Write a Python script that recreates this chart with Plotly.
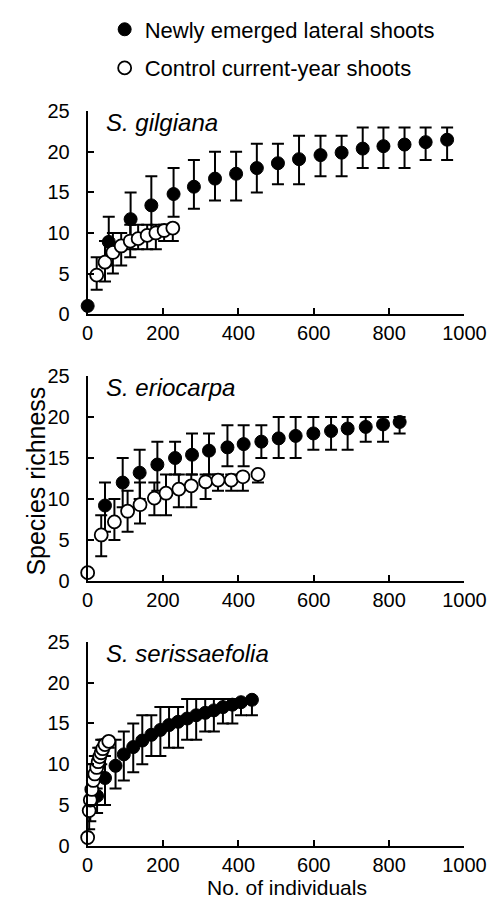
import plotly.graph_objects as go

# ---------------- data ----------------
panel_titles = ["S. gilgiana", "S. eriocarpa", "S. serissaefolia"]
legend_names = ["Newly emerged lateral shoots", "Control current-year shoots"]
x_ticks = [0, 200, 400, 600, 800, 1000]
y_ticks = [0, 5, 10, 15, 20, 25]

# S. gilgiana
new_x1 = [0, 56, 114, 169, 228, 282, 338, 394, 449, 505, 561, 618, 674, 730, 785, 841, 897, 954]
new_y1 = [1.0, 8.9, 11.7, 13.4, 14.8, 15.7, 16.7, 17.3, 18.0, 18.6, 19.1, 19.6, 19.9, 20.4, 20.7, 20.9, 21.2, 21.5]
new_hi1 = [1.0, 12, 15, 17, 18, 19, 20, 20, 21, 21, 22, 22, 22, 23, 23, 23, 23, 23]
new_lo1 = [1.0, 6, 8, 10, 12, 13, 14, 14, 15, 16, 16, 17, 17, 18, 18, 18, 19, 19]
ctl_x1 = [24, 46, 67, 89, 113, 134, 158, 181, 203, 226]
ctl_y1 = [4.8, 6.4, 7.6, 8.4, 9.0, 9.3, 9.7, 10.0, 10.3, 10.6]
ctl_hi1 = [7, 9, 10, 10, 11, 11, 11, 11, 11, 11]
ctl_lo1 = [3, 4, 5, 6, 7, 8, 8, 8, 9, 9]

# S. eriocarpa
new_x2 = [46, 93, 138, 185, 232, 277, 322, 371, 414, 461, 507, 552, 599, 646, 690, 738, 784, 828]
new_y2 = [9.2, 12.0, 13.2, 14.2, 15.0, 15.4, 15.9, 16.3, 16.7, 17.0, 17.4, 17.7, 18.0, 18.3, 18.6, 18.8, 19.1, 19.4]
new_hi2 = [12, 15, 16, 17, 17, 18, 18, 19, 19, 19, 20, 20, 20, 20, 20, 20, 20, 20]
new_lo2 = [6, 9, 10, 11, 13, 13, 13, 14, 14, 15, 15, 15, 16, 16, 16, 17, 17, 18]
ctl_x2 = [0, 36, 71, 106, 139, 177, 208, 242, 275, 313, 346, 381, 412, 452]
ctl_y2 = [1.0, 5.6, 7.2, 8.5, 9.3, 10.1, 10.7, 11.2, 11.6, 12.1, 12.3, 12.3, 12.7, 13.0]
ctl_hi2 = [1.0, 8, 10, 11, 12, 12, 13, 13, 13, 13, 13, 13, 13, 13]
ctl_lo2 = [1.0, 3, 5, 6, 7, 8, 8, 9, 9, 10, 11, 11, 11, 12]

# S. serissaefolia
new_x3 = [25, 46, 74, 96, 121, 145, 169, 193, 216, 240, 264, 288, 312, 335, 359, 384, 407, 436]
new_y3 = [6.1, 8.3, 9.8, 11.2, 12.1, 12.9, 13.6, 14.2, 14.8, 15.2, 15.6, 16.0, 16.3, 16.6, 17.0, 17.3, 17.6, 17.9]
new_hi3 = [8, 12, 13, 14, 15, 16, 16, 17, 17, 17, 18, 18, 18, 18, 18, 18, 18, 18]
new_lo3 = [4, 5, 7, 8, 9, 10, 11, 11, 12, 12, 13, 13, 14, 14, 15, 15, 16, 16]
ctl_x3 = [0, 4, 7, 11, 15, 19, 24, 28, 32, 36, 40, 46, 56]
ctl_y3 = [1.0, 4.3, 5.6, 6.9, 8.0, 8.8, 9.6, 10.3, 10.9, 11.4, 11.9, 12.4, 12.8]
ctl_hi3 = [1.0, 6, 8, 9, 10, 11, 11, 12, 12, 13, 13, 13, 13]
ctl_lo3 = [1.0, 2, 3, 4, 5, 6, 7, 8, 9, 10, 11, 11, 12]

panels = [
    (new_x1, new_y1, new_hi1, new_lo1, ctl_x1, ctl_y1, ctl_hi1, ctl_lo1),
    (new_x2, new_y2, new_hi2, new_lo2, ctl_x2, ctl_y2, ctl_hi2, ctl_lo2),
    (new_x3, new_y3, new_hi3, new_lo3, ctl_x3, ctl_y3, ctl_hi3, ctl_lo3),
]

# ---------------- layout helpers ----------------
W, H = 503, 902
FONT = "Liberation Sans, Arial, Helvetica, sans-serif"


def fx(px):
    return px / W


def fy(py):
    return 1 - py / H


# pixel positions (top, bottom) of each panel's plotting area
panel_px = [(90, 299), (363, 574), (637, 847)]
x_px = (78, 477)

fig = go.Figure()

for i, (nx, ny, nhi, nlo, cx, cy, chi, clo) in enumerate(panels):
    k = "" if i == 0 else str(i + 1)
    xa, ya = "x" + k, "y" + k
    fig.add_trace(go.Scatter(
        x=nx, y=ny, mode="markers", xaxis=xa, yaxis=ya,
        name=legend_names[0], legendgroup="a", showlegend=(i == 0),
        marker=dict(symbol="circle", size=13, color="black",
                    line=dict(color="black", width=1)),
        error_y=dict(type="data", symmetric=False,
                     array=[h - v for h, v in zip(nhi, ny)],
                     arrayminus=[v - l for v, l in zip(ny, nlo)],
                     color="black", thickness=2, width=6),
        cliponaxis=False,
    ))
    fig.add_trace(go.Scatter(
        x=cx, y=cy, mode="markers", xaxis=xa, yaxis=ya,
        name=legend_names[1], legendgroup="b", showlegend=(i == 0),
        marker=dict(symbol="circle", size=13, color="white",
                    line=dict(color="black", width=1.8)),
        error_y=dict(type="data", symmetric=False,
                     array=[h - v for h, v in zip(chi, cy)],
                     arrayminus=[v - l for v, l in zip(cy, clo)],
                     color="black", thickness=2, width=6),
        cliponaxis=False,
    ))

axis_common = dict(
    showgrid=False, zeroline=False, showline=True, linecolor="black",
    linewidth=2, ticks="inside", ticklen=6, tickwidth=2, tickcolor="black",
    tickfont=dict(family=FONT, size=20, color="black"), fixedrange=True,
)

layout = dict(
    width=W, height=H, paper_bgcolor="white", plot_bgcolor="white",
    margin=dict(l=0, r=0, t=0, b=0),
    font=dict(family=FONT, color="black"),
    showlegend=True,
    legend=dict(x=fx(96), y=fy(-16), xanchor="left", yanchor="top",
                font=dict(family=FONT, size=22, color="black"),
                tracegroupgap=7, bgcolor="rgba(0,0,0,0)"),
)

annotations = []
for i, (top, bot) in enumerate(panel_px):
    k = "" if i == 0 else str(i + 1)
    layout["xaxis" + k] = dict(axis_common, domain=[fx(x_px[0]), fx(x_px[1])],
                               range=[0, 1000], tickvals=x_ticks,
                               anchor="y" + k, ticklabelstandoff=0)
    layout["yaxis" + k] = dict(axis_common, domain=[fy(bot), fy(top)],
                               range=[0, 25], tickvals=y_ticks,
                               anchor="x" + k, ticklabelstandoff=12)
    annotations.append(dict(
        text="<i>" + panel_titles[i] + "</i>", xref="paper", yref="paper",
        x=fx(95), y=fy(top + 12), xanchor="left", yanchor="middle",
        showarrow=False, font=dict(family=FONT, size=24, color="black")))

annotations.append(dict(
    text="Species richness", xref="paper", yref="paper",
    x=fx(23), y=fy(471), xanchor="center", yanchor="middle", textangle=-90,
    showarrow=False, font=dict(family=FONT, size=25, color="black")))
annotations.append(dict(
    text="No. of individuals", xref="paper", yref="paper",
    x=fx(289), y=fy(903), xanchor="center", yanchor="bottom", borderpad=0,
    showarrow=False, font=dict(family=FONT, size=21, color="black")))

layout["annotations"] = annotations
fig.update_layout(**layout)

fig.write_html("out.html")
